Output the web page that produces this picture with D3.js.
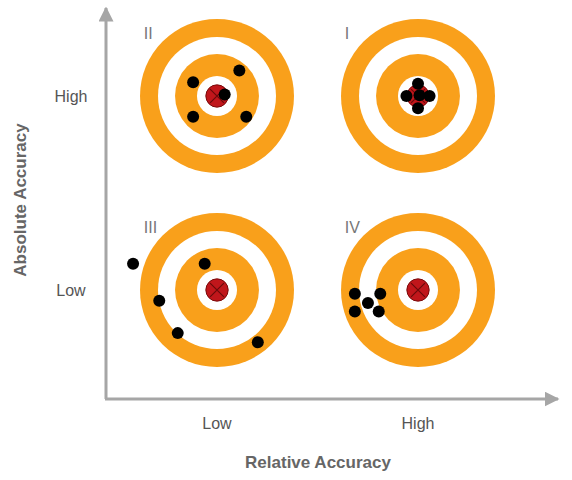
<!DOCTYPE html><html><head><meta charset="utf-8"><script src="https://cdn.jsdelivr.net/npm/d3@7"></script>
<style>body{margin:0;background:#fff}</style></head><body><svg id="c" width="572" height="480"></svg>
<script>
const quadrants = ["II","I","III","IV"];
const relAccuracy = ["Low","High","Low","High"];
const absAccuracy = ["High","High","Low","Low"];
const ringRadii = [1, 0.766, 0.545, 0.26, 0.145];
const ringColors = ["#f9a01b","#ffffff","#f9a01b","#ffffff","#c0161b"];
// shot offsets per target, in units of outer radius (x right, y up)
const shotsII = [[-0.31,0.18],[0.29,0.33],[-0.31,-0.27],[0.38,-0.27],[0.1,0.02]];
const shotsI = [[0,0.16],[-0.15,0],[0.15,0],[0,-0.16],[0.02,0.01]];
const shotsIII = [[-1.09,0.34],[-0.16,0.34],[-0.75,-0.14],[-0.51,-0.56],[0.53,-0.68]];
const shotsIV = [[-0.82,-0.05],[-0.65,-0.17],[-0.49,-0.05],[-0.82,-0.28],[-0.51,-0.28]];
const shots = [shotsII, shotsI, shotsIII, shotsIV];
const xCats = ["Low","High"], yCats = ["High","Low"];

const svg = d3.select("#c");
const x = d3.scalePoint().domain(xCats).range([217,418]);
const y = d3.scalePoint().domain(yCats).range([96,290]);
const r = d3.scaleLinear().domain([0,1]).range([0,77]);
const gray = "#a6a6a6";

// axes
svg.append("defs").append("marker").attr("id","ah").attr("viewBox","0 0 10 10").attr("refX",9).attr("refY",5)
 .attr("markerWidth",5).attr("markerHeight",5).attr("orient","auto").append("path").attr("d","M0,0L10,5L0,10z").attr("fill",gray);
svg.append("line").attr("x1",106).attr("y1",399).attr("x2",106).attr("y2",8).attr("stroke",gray).attr("stroke-width",3).attr("marker-end","url(#ah)");
svg.append("line").attr("x1",105).attr("y1",399).attr("x2",558).attr("y2",399).attr("stroke",gray).attr("stroke-width",3).attr("marker-end","url(#ah)");

const font = "Arial, 'Liberation Sans', sans-serif";
xCats.forEach(c=>svg.append("text").attr("x",x(c)).attr("y",429).attr("text-anchor","middle").attr("font-family",font).attr("font-size",16).attr("fill","#555").text(c));
yCats.forEach(c=>svg.append("text").attr("x",71).attr("y",y(c)+6).attr("text-anchor","middle").attr("font-family",font).attr("font-size",16).attr("fill","#555").text(c));
svg.append("text").attr("x",318).attr("y",468).attr("text-anchor","middle").attr("font-family",font).attr("font-size",17).attr("font-weight","bold").attr("fill","#666").text("Relative Accuracy");
svg.append("text").attr("transform","translate(26,200) rotate(-90)").attr("text-anchor","middle").attr("font-family",font).attr("font-size",17).attr("font-weight","bold").attr("fill","#666").text("Absolute Accuracy");

quadrants.forEach((q,i)=>{
  const cx = x(relAccuracy[i]), cy = y(absAccuracy[i]);
  const g = svg.append("g").attr("transform",`translate(${cx},${cy})`);
  ringRadii.forEach((rr,j)=>g.append("circle").attr("r",r(rr)).attr("fill",ringColors[j]).attr("stroke",j==4?"#7a0c0c":"none"));
  const k=r(0.09);
  g.append("path").attr("d",`M${-k},${-k}L${k},${k}M${-k},${k}L${k},${-k}`).attr("stroke","#6a0a0a").attr("stroke-width",1.2);
  g.append("text").attr("x",-r(0.95)).attr("y",-r(0.74)).attr("font-family",font).attr("font-size",16).attr("fill","#777").text(q);
  g.selectAll(".s").data(shots[i]).enter().append("circle").attr("cx",d=>r(d[0])).attr("cy",d=>-r(d[1])).attr("r",6).attr("fill","#000");
});
</script></body></html>
